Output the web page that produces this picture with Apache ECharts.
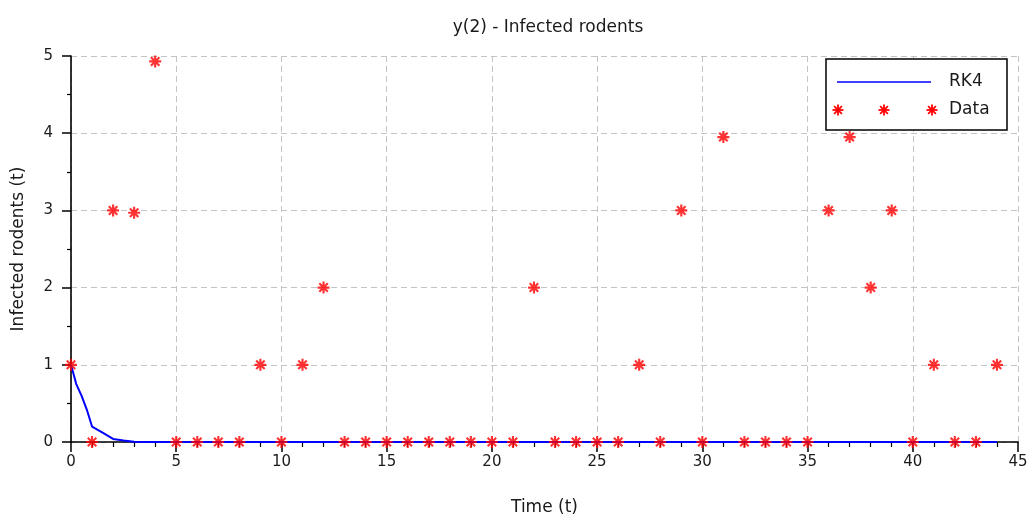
<!DOCTYPE html>
<html>
<head>
<meta charset="utf-8">
<script src="https://cdn.jsdelivr.net/npm/echarts@6/dist/echarts.min.js"></script>
<style>
  html, body { margin: 0; padding: 0; background: #fff; }
  #chart { width: 1031px; height: 516px; }
</style>
</head>
<body>
<div id="chart"></div>
<script>
// ---- Data ----
const titleText = 'y(2) - Infected rodents';
const xName = 'Time (t)';
const yName = 'Infected rodents (t)';
const lineName = 'RK4';
const dataName = 'Data';

// Observed data (t = 0..44)
const dataT = [0,1,2,3,4,5,6,7,8,9,10,11,12,13,14,15,16,17,18,19,20,21,22,23,24,25,26,27,28,29,30,31,32,33,34,35,36,37,38,39,40,41,42,43,44];
const dataY = [1,0,3,2.97,4.93,0,0,0,0,1,0,1,2,0,0,0,0,0,0,0,0,0,2,0,0,0,0,1,0,3,0,3.95,0,0,0,0,3,3.95,2,3,0,1,0,0,1];

// RK4 solution
const rk4T = [0,0.25,0.5,0.75,1,1.5,2,2.5,3,3.5,4,5,10,15,20,25,30,35,40,44];
const rk4Y = [1,0.75,0.6,0.42,0.2,0.12,0.04,0.02,0.004,0,0,0,0,0,0,0,0,0,0,0];

const xTicks = [0,5,10,15,20,25,30,35,40,45];
const yTicks = [0,1,2,3,4,5];

// ---- Chart ----
const FONT = 'DejaVu Sans';
const TXT = '#1a1a1a';
const ASTER = 'path://M0 8.2L20 8.2L20 11.8L0 11.8Z M8.2 0L11.8 0L11.8 20L8.2 20Z M4.20 1.66L18.34 15.80L15.80 18.34L1.66 4.20Z M15.80 1.66L18.34 4.20L4.20 18.34L1.66 15.80Z';

const lineData = rk4T.map((t, i) => [t, rk4Y[i]]);
const scatterData = dataT.map((t, i) => [t, dataY[i]]);

function asteriskGraphic(cx, cy, r) {
  const d = r * Math.SQRT1_2;
  const seg = (x1, y1, x2, y2) => ({ type: 'line', z: 12, zlevel: 1, shape: { x1: cx + x1, y1: cy + y1, x2: cx + x2, y2: cy + y2 },
    style: { stroke: '#ff0000', lineWidth: 1.8 } });
  return [seg(-r, 0, r, 0), seg(0, -r, 0, r), seg(-d, -d, d, d), seg(-d, d, d, -d)];
}

const chart = echarts.init(document.getElementById('chart'), null, { renderer: 'canvas' });

const gridLine = { show: true, lineStyle: { color: '#c4c4c4', type: [6, 4], width: 1 } };

chart.setOption({
  animation: false,
  backgroundColor: '#ffffff',
  textStyle: { fontFamily: FONT },
  title: {
    text: titleText,
    left: 543,
    top: 14,
    textAlign: 'center',
    textStyle: { fontFamily: FONT, fontSize: 17, fontWeight: 'normal', color: TXT }
  },
  grid: { left: 71, right: 13, top: 56, bottom: 74, containLabel: false, outerBoundsMode: 'none' },
  xAxis: {
    type: 'value',
    min: xTicks[0],
    max: xTicks[xTicks.length - 1],
    interval: 5,
    name: xName,
    nameLocation: 'middle',
    nameGap: 57,
    nameTextStyle: { fontFamily: FONT, fontSize: 17, color: TXT },
    axisLine: { show: true, onZero: false, lineStyle: { color: '#000', width: 1.6 } },
    axisTick: { show: true, inside: false, length: 10, lineStyle: { color: '#000', width: 1.5 } },
    minorTick: { show: true, splitNumber: 5, length: 5, lineStyle: { color: '#000', width: 1.2 } },
    axisLabel: { fontFamily: FONT, fontSize: 15, color: TXT, margin: 13 },
    splitLine: gridLine
  },
  yAxis: {
    type: 'value',
    min: yTicks[0],
    max: yTicks[yTicks.length - 1],
    interval: 1,
    name: yName,
    nameLocation: 'middle',
    nameGap: 44,
    nameTextStyle: { fontFamily: FONT, fontSize: 17, color: TXT },
    axisLine: { show: true, onZero: false, lineStyle: { color: '#000', width: 1.6 } },
    axisTick: { show: true, inside: false, length: 9, lineStyle: { color: '#000', width: 1.5 } },
    minorTick: { show: true, splitNumber: 2, length: 4, lineStyle: { color: '#000', width: 1.2 } },
    axisLabel: { fontFamily: FONT, fontSize: 15, color: TXT, margin: 18 },
    splitLine: gridLine
  },
  series: [
    {
      name: lineName,
      type: 'line',
      data: lineData,
      showSymbol: false,
      symbol: 'none',
      clip: false,
      lineStyle: { color: '#0000ff', width: 2 },
      zlevel: 1,
      z: 8
    },
    {
      name: dataName,
      type: 'scatter',
      data: scatterData,
      symbol: ASTER,
      symbolSize: 12,
      itemStyle: { color: '#ff0000' },
      clip: false,
      zlevel: 1,
      z: 9
    }
  ],
  graphic: [
    { type: 'rect', shape: { x: 826, y: 59, width: 181, height: 71 }, zlevel: 1,
      style: { fill: '#ffffff', stroke: '#000000', lineWidth: 1.5 }, z: 10 },
    { type: 'line', shape: { x1: 837, y1: 82, x2: 931, y2: 82 }, zlevel: 1,
      style: { stroke: '#0000ff', lineWidth: 1.5 }, z: 11 },
    { type: 'text', x: 949, y: 82, zlevel: 1, style: { text: lineName, fontFamily: FONT, fontSize: 17, fill: TXT, verticalAlign: 'middle' }, z: 11 },
    ...asteriskGraphic(838, 110, 5.5),
    ...asteriskGraphic(884, 110, 5.5),
    ...asteriskGraphic(932, 110, 5.5),
    { type: 'text', x: 949, y: 110, zlevel: 1, style: { text: dataName, fontFamily: FONT, fontSize: 17, fill: TXT, verticalAlign: 'middle' }, z: 11 }
  ]
});
</script>
</body>
</html>
